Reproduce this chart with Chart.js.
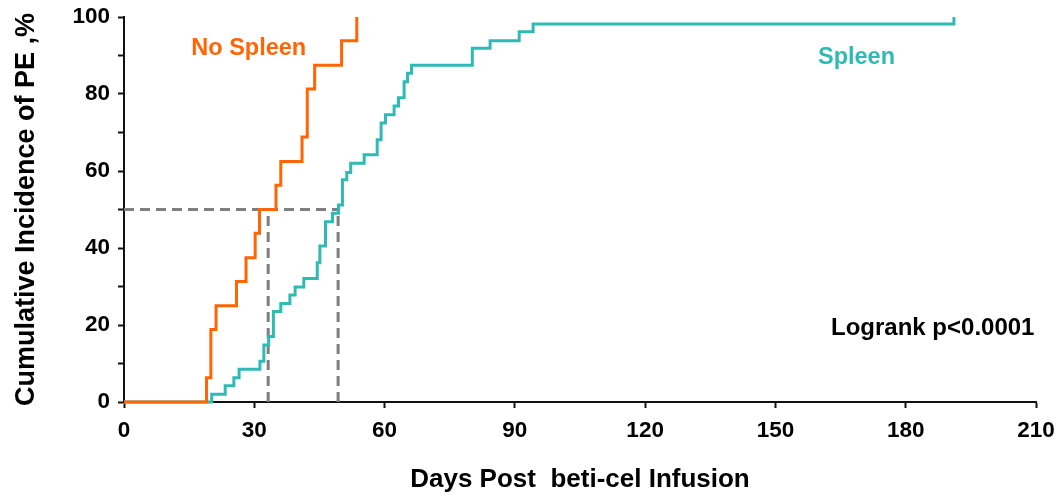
<!DOCTYPE html>
<html>
<head>
<meta charset="utf-8">
<script src="https://cdn.jsdelivr.net/npm/chart.js@4"></script>
<style>
  html, body { margin: 0; padding: 0; background: #ffffff; }
  #wrap { width: 1062px; height: 496px; }
</style>
</head>
<body>
<div id="wrap"><canvas id="c" width="1062" height="496"></canvas></div>
<script>
// ---- Data ----
const noSpleenDays = [0, 19.0, 20.0, 21.2, 25.9, 28.1, 30.2, 31.2, 35.0, 36.1, 41.0, 42.2, 43.9, 50.1, 53.6];
const noSpleenPct  = [0, 6.3, 18.8, 25.0, 31.3, 37.5, 43.8, 50.0, 56.3, 62.5, 68.8, 81.3, 87.5, 93.8, 100];

const spleenDays = [0, 20.2, 23.3, 25.3, 26.5, 31.3, 32.2, 33.3, 34.4, 36.1, 38.2, 39.4, 41.4, 44.5, 45.1,
                    46.4, 48.0, 49.4, 50.3, 51.3, 52.2, 55.3, 58.3, 59.2, 60.2, 62.2, 63.2, 64.5, 65.3, 66.2,
                    80.2, 84.3, 91.0, 94.2, 191.1];
const spleenPct  = [0, 2.0, 4.2, 6.3, 8.5, 10.6, 14.8, 17.0, 23.5, 25.6, 27.8, 29.9, 32.1, 36.2, 40.5,
                    46.8, 49.0, 51.2, 57.7, 59.6, 62.0, 64.2, 68.1, 72.5, 74.6, 76.9, 79.0, 83.2, 85.4, 87.5,
                    91.9, 93.8, 96.2, 98.2, 100];

const medianLevel = 50;
const medianNoSpleen = 33.2;
const medianSpleen = 49.3;

const xTicks = [0, 30, 60, 90, 120, 150, 180, 210];
const yLabelTicks = [0, 20, 40, 60, 80, 100];

const seriesNames = ['No Spleen', 'Spleen'];
const xTitle = 'Days Post  beti-cel Infusion';
const yTitle = 'Cumulative Incidence of PE ,%';
const statText = 'Logrank p<0.0001';

// ---- Build datasets ----
const toPts = (xs, ys) => xs.map((x, i) => ({ x: x, y: ys[i] }));

const ORANGE = '#FF6405';
const TEAL = '#2EBBB4';
const GRAY = '#7F7F7F';
const FONT = '"Liberation Sans", Arial, Helvetica, sans-serif';

const datasets = [
  { label: seriesNames[0], data: toPts(noSpleenDays, noSpleenPct), borderColor: ORANGE,
    borderWidth: 3, stepped: 'before', pointRadius: 0, fill: false, clip: false, order: 0 },
  { label: seriesNames[1], data: toPts(spleenDays, spleenPct), borderColor: TEAL,
    borderWidth: 3, stepped: 'before', pointRadius: 0, fill: false, clip: false, order: 1 },
  { label: 'median-h', data: [{ x: 0, y: medianLevel }, { x: medianSpleen, y: medianLevel }],
    borderColor: GRAY, borderWidth: 3, borderDash: [10, 6], pointRadius: 0, fill: false, clip: false, order: 2 },
  { label: 'median-ns', data: [{ x: medianNoSpleen, y: 0 }, { x: medianNoSpleen, y: medianLevel }],
    borderColor: GRAY, borderWidth: 3, borderDash: [10, 6], pointRadius: 0, fill: false, clip: false, order: 2 },
  { label: 'median-s', data: [{ x: medianSpleen, y: 0 }, { x: medianSpleen, y: medianLevel }],
    borderColor: GRAY, borderWidth: 3, borderDash: [10, 6], pointRadius: 0, fill: false, clip: false, order: 2 }
];

// text annotations anchored in data coordinates
const annotations = [
  { text: seriesNames[0], x: 15.5, y: 90.1, color: ORANGE, size: 23.5 },
  { text: seriesNames[1], x: 159.8, y: 87.9, color: TEAL, size: 23.5 },
  { text: statText, x: 162.8, y: 17.4, color: '#000000', size: 24 }
];

const textPlugin = {
  id: 'textPlugin',
  afterDatasetsDraw(chart) {
    const ctx = chart.ctx;
    const xs = chart.scales.x, ys = chart.scales.y;
    ctx.save();
    annotations.forEach(a => {
      ctx.font = 'bold ' + a.size + 'px ' + FONT;
      ctx.fillStyle = a.color;
      ctx.textAlign = 'left';
      ctx.textBaseline = 'alphabetic';
      ctx.fillText(a.text, xs.getPixelForValue(a.x), ys.getPixelForValue(a.y));
    });
    ctx.restore();
  }
};

new Chart(document.getElementById('c'), {
  type: 'line',
  data: { datasets: datasets },
  plugins: [textPlugin],
  options: {
    responsive: false,
    animation: false,
    events: [],
    layout: { padding: { left: 0, right: 26, top: 17, bottom: 0 } },
    plugins: { legend: { display: false }, tooltip: { enabled: false } },
    scales: {
      x: {
        type: 'linear', min: 0, max: 210,
        afterFit(scale) { scale.height = 94; scale.paddingLeft = 0; scale.paddingRight = 0; },
        afterBuildTicks(scale) { scale.ticks = xTicks.map(v => ({ value: v })); },
        border: { display: true, color: '#111111', width: 2 },
        grid: { drawOnChartArea: false, drawTicks: true, tickLength: 6, tickWidth: 2, tickColor: '#111111' },
        ticks: { color: '#000000', padding: 9, maxRotation: 0, autoSkip: false,
                 font: { family: FONT, size: 22.5, weight: 'bold', lineHeight: 1.2 } },
        title: { display: true, text: xTitle, color: '#000000', padding: { top: 0, bottom: 1 },
                 font: { family: FONT, size: 26, weight: 'bold', lineHeight: 1.2 } }
      },
      y: {
        type: 'linear', min: 0, max: 100,
        afterFit(scale) { scale.width = 124; scale.paddingTop = 0; scale.paddingBottom = 0; },
        ticks: { stepSize: 10, color: '#000000', padding: 8, autoSkip: false,
                 callback: v => (yLabelTicks.includes(v) ? String(v) : ''),
                 font: { family: FONT, size: 22.5, weight: 'bold', lineHeight: 1.2 } },
        border: { display: true, color: '#111111', width: 2 },
        grid: { drawOnChartArea: false, drawTicks: true, tickLength: 6, tickWidth: 2, tickColor: '#111111' },
        title: { display: true, text: yTitle, color: '#000000', padding: { top: 10, bottom: 0 },
                 font: { family: FONT, size: 27, weight: 'bold', lineHeight: 1.2 } }
      }
    }
  }
});
</script>
</body>
</html>
